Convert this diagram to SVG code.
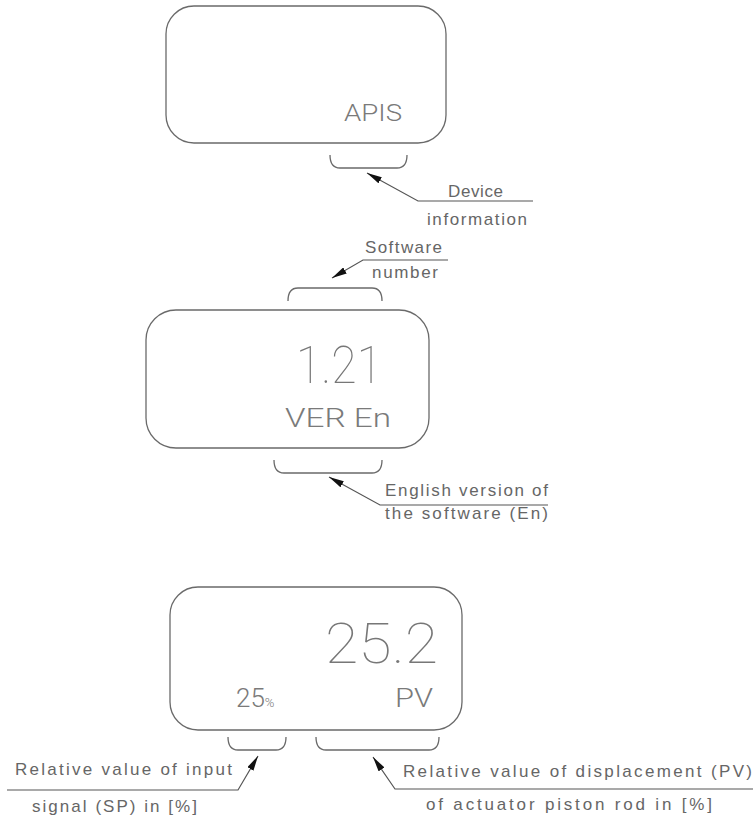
<svg xmlns="http://www.w3.org/2000/svg" width="754" height="820" viewBox="0 0 754 820">
<defs>
<style>
.box{fill:none;stroke:#6a6a6a;stroke-width:1.3}
.br{fill:none;stroke:#6a6a6a;stroke-width:1.3}
.ld{fill:none;stroke:#555;stroke-width:1.2}
.lbl{font-family:"Liberation Sans",Arial,sans-serif;font-size:17px;fill:#666}
.disp{font-family:Roboto,"Liberation Sans",Arial,sans-serif;fill:#777;font-weight:100}
.sm{font-family:Roboto,"Liberation Sans",Arial,sans-serif;fill:#7a7a7a;font-weight:300}
</style>
<marker id="ah" viewBox="0 0 15 7" markerWidth="15" markerHeight="7" refX="15" refY="3.5" orient="auto" markerUnits="userSpaceOnUse">
<path d="M0,0 L15,3.5 L0,7 z" fill="#111"/>
</marker>
</defs>
<rect width="754" height="820" fill="#ffffff"/>

<g id="display-apis">
<rect class="box" x="166" y="6" width="280" height="137" rx="28" ry="28"/>
<text class="sm" x="344" y="121" font-size="24" textLength="58" lengthAdjust="spacingAndGlyphs">APIS</text>
<path class="br" d="M330,155 Q330,168 340,168 L397,168 Q407,168 407,155"/>
</g>

<g id="label-device">
<text class="lbl" x="448" y="197" textLength="55">Device</text>
<text class="lbl" x="427" y="225" textLength="100">information</text>
</g>

<g id="display-version">
<rect class="box" x="146" y="310" width="283" height="138" rx="30" ry="30"/>
<text class="disp" x="296" y="383" font-size="52" textLength="86" lengthAdjust="spacingAndGlyphs">1.21</text>
<text class="sm" x="285" y="427" font-size="26" textLength="106" lengthAdjust="spacingAndGlyphs">VER En</text>
<path class="br" d="M288,301 Q288,288 298,288 L372,288 Q382,288 382,301"/>
<path class="br" d="M274,460 Q274,473 284,473 L372,473 Q382,473 382,460"/>
</g>

<g id="label-software">
<text class="lbl" x="365" y="253" textLength="77">Software</text>
<text class="lbl" x="372" y="278" textLength="66">number</text>
</g>

<g id="label-english">
<text class="lbl" x="385" y="496" textLength="163">English version of</text>
<text class="lbl" x="385" y="519" textLength="163">the software (En)</text>
</g>

<g id="display-values">
<rect class="box" x="170" y="587" width="292" height="143" rx="28" ry="28"/>
<text class="disp" x="325" y="663" font-size="55" textLength="113" lengthAdjust="spacingAndGlyphs">25.2</text>
<text class="sm" x="236" y="707" font-size="26">25<tspan font-size="13">%</tspan></text>
<text class="sm" x="395" y="707" font-size="26" textLength="38" lengthAdjust="spacingAndGlyphs">PV</text>
<path class="br" d="M228,737 Q228,750 238,750 L276,750 Q286,750 286,737"/>
<path class="br" d="M316,737 Q316,750 326,750 L429,750 Q439,750 439,737"/>
</g>

<g id="label-sp">
<text class="lbl" x="15" y="775" textLength="217">Relative value of input</text>
<text class="lbl" x="32" y="812" textLength="165">signal (SP) in [%]</text>
</g>

<g id="label-pv">
<text class="lbl" x="403" y="777" textLength="349">Relative value of displacement (PV)</text>
<text class="lbl" x="426" y="810" textLength="286">of actuator piston rod in [%]</text>
</g>

<g id="connectors">
<polyline class="ld" points="533,201 418,201 367,173" marker-end="url(#ah)"/>
<polyline class="ld" points="448,260 363,260 332,278" marker-end="url(#ah)"/>
<polyline class="ld" points="548,505 380,505 329,477" marker-end="url(#ah)"/>
<polyline class="ld" points="7,790 238,790 258,756" marker-end="url(#ah)"/>
<polyline class="ld" points="753,789 395,789 373,757" marker-end="url(#ah)"/>
</g>
</svg>
